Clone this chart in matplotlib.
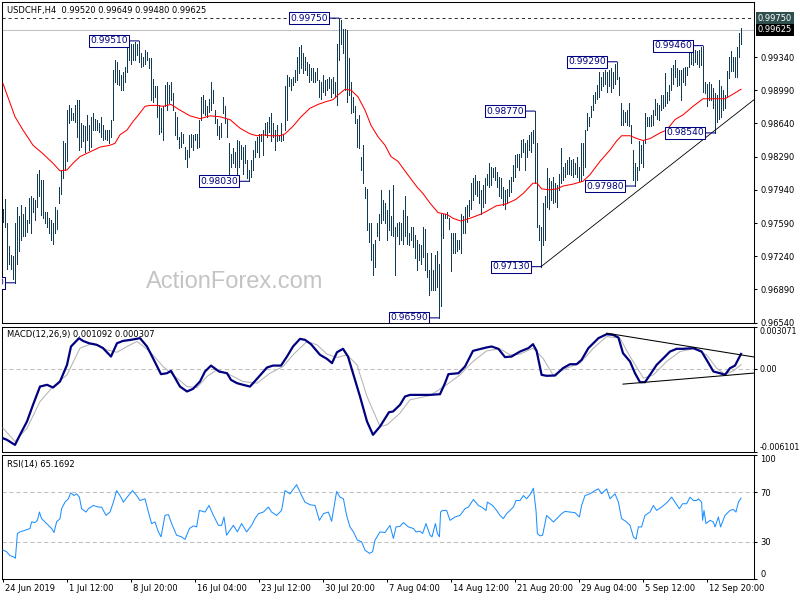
import matplotlib
matplotlib.use("Agg")
import matplotlib.pyplot as plt
import numpy as np

plt.rcParams['font.family'] = ['DejaVu Sans']
plt.rcParams['lines.scale_dashes'] = False
plt.rcParams['axes.unicode_minus'] = False

# H4 bars, prices in 1/10000 (0.9774 -> 9774)
bar_high = [
    9774, 9784, 9759, 9735, 9725, 9724, 9759, 9776, 9766, 9778,
    9769, 9776, 9762, 9785, 9787, 9785, 9783, 9811, 9815, 9804,
    9804, 9771, 9771, 9764, 9762, 9759, 9776, 9773, 9797, 9815,
    9845, 9843, 9878, 9883, 9880, 9875, 9883, 9889, 9889, 9864,
    9862, 9861, 9873, 9862, 9871, 9875, 9869, 9868, 9864, 9871,
    9862, 9857, 9857, 9857, 9868, 9920, 9931, 9929, 9920, 9915,
    9918, 9924, 9948, 9950, 9948, 9948, 9950, 9948, 9951, 9938,
    9934, 9941, 9939, 9933, 9933, 9911, 9903, 9903, 9883, 9880,
    9882, 9904, 9908, 9904, 9908, 9896, 9876, 9871, 9850, 9855,
    9853, 9839, 9836, 9852, 9853, 9852, 9853, 9853, 9868, 9892,
    9894, 9889, 9882, 9890, 9908, 9899, 9878, 9869, 9861, 9864,
    9892, 9882, 9869, 9843, 9832, 9838, 9834, 9846, 9845, 9841,
    9839, 9841, 9825, 9815, 9825, 9836, 9845, 9850, 9853, 9853,
    9857, 9864, 9866, 9871, 9875, 9864, 9857, 9862, 9852, 9864,
    9853, 9903, 9915, 9913, 9911, 9913, 9920, 9934, 9945, 9947,
    9938, 9934, 9929, 9927, 9922, 9922, 9918, 9922, 9910, 9908,
    9915, 9910, 9911, 9913, 9911, 9913, 9908, 9948, 9975, 9973,
    9964, 9964, 9962, 9933, 9908, 9892, 9882, 9869, 9873, 9829,
    9841, 9797, 9795, 9759, 9759, 9737, 9741, 9759, 9769, 9794,
    9783, 9780, 9773, 9794, 9766, 9799, 9755, 9759, 9760, 9759,
    9773, 9788, 9766, 9748, 9755, 9755, 9746, 9741, 9737, 9736,
    9755, 9753, 9727, 9709, 9727, 9709, 9725, 9729, 9716, 9769,
    9769, 9769, 9771, 9764, 9748, 9748, 9748, 9741, 9741, 9769,
    9766, 9776, 9778, 9783, 9801, 9806, 9810, 9803, 9803, 9794,
    9799, 9806, 9811, 9822, 9818, 9817, 9818, 9813, 9808, 9806,
    9797, 9794, 9795, 9804, 9808, 9820, 9831, 9832, 9832, 9846,
    9848, 9843, 9846, 9852, 9855, 9857, 9877, 9843, 9757, 9755,
    9780, 9787, 9817, 9806, 9803, 9808, 9801, 9799, 9811, 9838,
    9818, 9822, 9825, 9829, 9825, 9827, 9822, 9829, 9818, 9843,
    9843, 9857, 9875, 9871, 9882, 9894, 9897, 9904, 9918, 9913,
    9918, 9920, 9918, 9920, 9922, 9918, 9927, 9929, 9913, 9885,
    9878, 9876, 9878, 9885, 9862, 9836, 9822, 9818, 9845, 9841,
    9845, 9875, 9871, 9871, 9873, 9878, 9890, 9885, 9883, 9894,
    9894, 9917, 9897, 9905, 9922, 9926, 9931, 9922, 9920, 9920,
    9922, 9924, 9924, 9941, 9945, 9945, 9941, 9940, 9941, 9945,
    9946, 9908, 9906, 9908, 9906, 9901, 9896, 9894, 9910, 9903,
    9899, 9894, 9919, 9934, 9940, 9934, 9934, 9945, 9959, 9965,
]
bar_low = [
    9760, 9755, 9711, 9716, 9711, 9700, 9696, 9716, 9730, 9741,
    9745, 9745, 9750, 9759, 9748, 9771, 9762, 9776, 9787, 9767,
    9764, 9759, 9755, 9748, 9741, 9737, 9748, 9753, 9780, 9790,
    9806, 9815, 9824, 9864, 9868, 9868, 9866, 9850, 9836, 9839,
    9845, 9834, 9846, 9836, 9839, 9857, 9857, 9857, 9855, 9850,
    9846, 9848, 9846, 9843, 9850, 9868, 9908, 9906, 9904, 9899,
    9899, 9908, 9918, 9931, 9927, 9931, 9931, 9936, 9929, 9924,
    9925, 9927, 9931, 9922, 9889, 9887, 9892, 9871, 9853, 9855,
    9846, 9882, 9878, 9885, 9889, 9878, 9852, 9848, 9838, 9839,
    9843, 9827, 9818, 9829, 9839, 9836, 9846, 9838, 9839, 9868,
    9875, 9873, 9871, 9876, 9878, 9885, 9864, 9852, 9848, 9850,
    9875, 9864, 9850, 9808, 9818, 9822, 9818, 9810, 9818, 9827,
    9811, 9822, 9806, 9803, 9808, 9815, 9829, 9834, 9829, 9845,
    9831, 9852, 9850, 9855, 9845, 9850, 9836, 9845, 9846, 9845,
    9846, 9857, 9868, 9903, 9899, 9904, 9908, 9910, 9917, 9922,
    9917, 9920, 9915, 9908, 9910, 9908, 9908, 9910, 9892, 9890,
    9897, 9894, 9899, 9901, 9892, 9896, 9892, 9883, 9931, 9948,
    9938, 9899, 9887, 9894, 9875, 9876, 9864, 9839, 9838, 9815,
    9801, 9785, 9752, 9739, 9720, 9704, 9713, 9745, 9741, 9759,
    9762, 9759, 9741, 9752, 9746, 9745, 9704, 9745, 9737, 9741,
    9737, 9745, 9737, 9736, 9741, 9734, 9722, 9709, 9720, 9716,
    9723, 9709, 9702, 9683, 9688, 9688, 9688, 9692, 9659, 9671,
    9743, 9764, 9764, 9753, 9708, 9727, 9727, 9730, 9732, 9727,
    9748, 9748, 9760, 9766, 9774, 9783, 9790, 9788, 9780, 9769,
    9776, 9780, 9799, 9797, 9799, 9808, 9804, 9797, 9787, 9785,
    9778, 9774, 9780, 9787, 9792, 9803, 9808, 9818, 9815, 9829,
    9834, 9815, 9829, 9836, 9834, 9843, 9801, 9755, 9741, 9713,
    9736, 9741, 9776, 9774, 9783, 9780, 9781, 9776, 9794, 9801,
    9804, 9808, 9811, 9811, 9810, 9808, 9811, 9808, 9803, 9803,
    9810, 9818, 9857, 9861, 9871, 9878, 9885, 9890, 9892, 9899,
    9903, 9906, 9897, 9903, 9897, 9901, 9906, 9911, 9894, 9862,
    9862, 9866, 9862, 9861, 9843, 9804, 9798, 9804, 9815, 9822,
    9818, 9843, 9861, 9861, 9861, 9862, 9873, 9869, 9868, 9878,
    9880, 9882, 9885, 9889, 9899, 9906, 9913, 9903, 9905, 9889,
    9908, 9905, 9915, 9924, 9927, 9926, 9929, 9927, 9924, 9926,
    9897, 9896, 9882, 9889, 9889, 9880, 9854, 9866, 9869, 9871,
    9878, 9880, 9892, 9912, 9919, 9919, 9913, 9913, 9934, 9948,
]

# red moving average, read at bar positions
ma_x = [0, 6, 10, 15, 20, 25, 28.5, 32, 35, 38.5,
        43.5, 48.5, 53.5, 56, 58.5, 62, 65, 67, 71, 73.5,
        77, 80, 84, 88.5, 93.5, 98.5, 103.5, 108.5, 113.5, 118.5,
        123.5, 127, 130, 133.5, 138.5, 141, 145, 149, 153.5, 157.5,
        161.5, 165, 167.5, 171, 174, 177.5, 181, 184, 187.5, 191,
        194, 197.5, 202, 207, 210, 213.5, 217.5, 222, 225, 229,
        233.5, 238.5, 241.5, 246.5, 251.5, 256.5, 260, 265, 267, 269.3,
        273.5, 277, 280, 285, 290, 293.5, 298.5, 303.5, 307, 309.3,
        313.5, 317, 320, 323.5, 328.5, 331.8, 336, 340, 345, 350,
        355, 361, 364.3, 369]
ma_v = [9906, 9871, 9857, 9841, 9832, 9822, 9814, 9815, 9822, 9829,
        9834, 9839, 9841, 9843, 9852, 9857, 9866, 9871, 9882, 9883,
        9883, 9882, 9884, 9878, 9872, 9869, 9872, 9871, 9868, 9859,
        9853, 9851, 9852, 9851, 9851, 9853, 9861, 9871, 9880, 9884,
        9887, 9889, 9894, 9900, 9899, 9892, 9878, 9862, 9850, 9841,
        9829, 9824, 9811, 9797, 9790, 9780, 9770, 9768, 9764, 9761,
        9764, 9768, 9771, 9777, 9779, 9784, 9790, 9801, 9801, 9795,
        9794, 9795, 9798, 9800, 9803, 9810, 9824, 9836, 9846, 9851,
        9851, 9848, 9846, 9848, 9854, 9857, 9868, 9873, 9882, 9890,
        9890, 9890, 9894, 9900]

# MACD(12,26,9) main and signal, values in 1e-4
macd_x = [0, 2, 6, 8.5, 12, 15, 18.5, 22, 25, 28.5,
          32, 34, 38, 40, 43, 47, 50, 54, 57, 60,
          64, 68.5, 72, 75, 79, 82, 84, 88.5, 92, 95,
          98.5, 101, 104, 108, 112, 114, 117, 120, 123.5, 127,
          132, 135, 139, 142, 145, 148.5, 151, 154, 158.5, 162,
          164.5, 167, 170, 172.5, 175, 178.5, 182, 185, 188.5, 193,
          195, 198.5, 201, 203.5, 208.5, 213.5, 218.5, 221, 222.7, 227.7,
          231, 235, 239, 241.8, 244.3, 247.7, 251, 254.3, 258.5, 262.7,
          265, 266.8, 269.3, 271.8, 276, 280, 283.5, 286.8, 289.3, 292.7,
          297.7, 301.8, 305, 307.7, 310, 313.5, 316, 318.5, 321, 323.5,
          326.8, 330.2, 333.5, 336.8, 340.2, 345.2, 349.3, 351.8, 355.2, 358.5,
          361, 363.5, 366, 369]
macd_v = [-50.9, -52.1, -55.8, -48.4, -38.6, -26.4, -13.0, -11.7, -13.7, -9.3,
          2.9, 16.4, 22.5, 20.5, 18.8, 17.6, 15.2, 9.05, 18.8, 20.5,
          21.3, 22.5, 16.4, 7.8, -3.9, -3.2, -1.5, -13.0, -16.6, -14.7,
          -9.3, -1.95, 2.4, -1.95, -3.2, -8.1, -10.5, -11.7, -13.0, -7.3,
          1.0, 2.4, 2.4, 9.05, 16.4, 22.0, 21.3, 18.1, 10.3, 7.3,
          4.2, 12.2, 14.7, 9.05, -3.2, -20.3, -38.6, -48.4, -42.3, -31.8,
          -31.3, -26.4, -20.3, -19.1, -19.1, -19.1, -18.6, -10.5, -3.9, -3.2,
          1.7, 13.2, 14.7, 15.7, 16.4, 14.7, 8.6, 9.05, 12.7, 15.2,
          18.1, 13.2, -4.4, -5.1, -4.9, 0.5, 3.4, 3.4, 6.6, 15.2,
          22.5, 25.4, 24.95, 23.0, 11.5, 5.4, -3.2, -9.8, -9.8, -4.4,
          2.9, 7.8, 12.7, 14.7, 14.7, 15.2, 12.7, 6.6, -1.95, -3.2,
          -4.4, 0.5, 2.4, 10.92]
sig_x = [0, 6, 12, 18.5, 25, 32, 38.5, 45, 52, 57,
         62, 67, 73.5, 80, 87, 92, 97, 102, 107, 113.5,
         120, 127, 133.5, 140, 145, 152, 157, 162, 167, 172,
         177, 182, 188.5, 192, 198.5, 203.5, 213.5, 221.8, 228.5, 235,
         241.8, 248.5, 253.5, 258.5, 265, 270, 275, 281.8, 288.5, 295.2,
         301.8, 308.5, 313.5, 320.2, 325.2, 331.8, 338.5, 345.2, 351.8, 356.8,
         361, 365.2, 369]
sig_v = [-43.5, -53.3, -43.5, -24.0, -13.0, -4.4, 15.2, 18.8, 13.9, 12.2,
         16.4, 20.1, 12.7, 1.7, -6.8, -13.0, -13.7, -5.6, -0.7, -4.4,
         -9.3, -10.5, -3.2, 1.7, 10.3, 20.1, 17.6, 10.8, 8.3, 10.3,
         2.9, -20.3, -42.3, -41.1, -32.5, -22.7, -19.6, -11.7, -4.4, 5.4,
         13.2, 14.7, 10.3, 10.8, 15.2, 7.8, -4.4, 0.5, 4.2, 15.2,
         23.7, 22.5, 9.05, -6.8, -4.4, 5.4, 12.7, 14.7, 10.3, 0.5,
         -3.9, -1.5, 3.07]

# RSI(14)
rsi_x = [0, 1.8, 3.5, 5.2, 6.2, 7.2, 8.5, 11, 13.5, 14.3,
         16, 17.2, 18.2, 19.3, 21.8, 24.3, 25.5, 26.8, 28.5, 29.3,
         31, 32.7, 33.8, 35.5, 36.8, 38.2, 39.3, 41.5, 42.7, 45.2,
         47.7, 49.3, 51.5, 53.5, 55.2, 56.8, 58.5, 60.2, 62.7, 64.8,
         66.8, 68.5, 71, 72.7, 74.3, 76, 77.7, 79, 81, 82.7,
         84.3, 86.8, 89.3, 91, 93.2, 95.2, 96.8, 98.2, 101, 103,
         105.2, 107.7, 109.3, 110.5, 111.8, 113.5, 115.2, 117.2, 119.3, 121.8,
         124.3, 126, 127.7, 130.2, 132.7, 134.3, 136.8, 139.3, 141, 143.5,
         146.8, 149.3, 151, 153.5, 156, 158.2, 160.2, 162.7, 164.3, 166.8,
         168.5, 170.2, 171.8, 173.5, 175.2, 177.2, 179.3, 181, 183.2, 184.8,
         186, 188.5, 191, 193.5, 195.2, 196.5, 198.5, 200.2, 202.7, 205.2,
         206.5, 208.5, 209.8, 211.5, 213.5, 214.5, 216.2, 217.2, 218.2, 218.8,
         219.8, 221.8, 223.5, 226, 228.5, 231, 232.7, 235.2, 237.7, 239.3,
         241.5, 242.2, 244.8, 246.8, 248.5, 250.2, 251.8, 255.2, 256.5, 258.5,
         260.2, 261.8, 263.8, 265.2, 266.5, 267.2, 268.5, 269.8, 271.8, 273.5,
         275.2, 277.7, 279.3, 281, 283.5, 286, 288.2, 289.3, 291, 293.5,
         296, 297.7, 299.3, 301.8, 303.5, 306, 307.7, 309.3, 311.8, 313.5,
         315.2, 316.5, 317.7, 319.3, 321, 323.5, 325.2, 326.8, 329.3, 332.2,
         334.3, 336, 338.2, 339.8, 341.8, 343.5, 345.2, 346.8, 347.7, 349.3,
         349.8, 350.5, 351.5, 353.5, 355.2, 356, 357.7, 358.8, 361, 363.5,
         365.2, 366.5, 367.7, 369]
rsi_v = [23.3, 22, 18.8, 18, 16.7, 36.7, 38, 39.3, 40.7, 46,
         45.5, 47.3, 54, 48.7, 44.7, 40.7, 37.5, 46, 48.7, 56.7,
         62, 64.7, 69.5, 67.3, 68.7, 66, 56.7, 54, 56.7, 59.3,
         58, 58, 51.3, 54, 62, 71.3, 67.3, 62, 67.3, 71.3,
         67.3, 63.3, 64.7, 54, 44.7, 46, 38, 34, 51.3, 51.9,
         44.7, 35.3, 34, 31.9, 40.7, 42.8, 42, 55.3, 54, 59.3,
         51.3, 43.3, 43.3, 50, 35.3, 39.3, 43.3, 38, 44.7, 38,
         43.3, 48.7, 52.7, 54, 58, 54, 51.3, 55.3, 71.3, 68.7,
         76.1, 67.3, 62, 59.9, 59.3, 47.3, 52.7, 54, 46.5, 70.5,
         66, 64.7, 51.3, 42, 38, 31.3, 30, 23.3, 20.7, 22,
         31.3, 38, 37.5, 43.3, 32.7, 42, 42.5, 45.5, 42, 40.7,
         38, 38.5, 36.7, 44.7, 35.3, 34, 44.7, 36.7, 34, 54,
         55.3, 55.3, 47.3, 50, 51.3, 56.7, 58, 64.1, 59.3, 58,
         55.3, 62, 59.3, 55.3, 51.3, 48.7, 52.7, 58, 63.3, 63.3,
         67.3, 64.7, 68.7, 73.2, 55.3, 36.7, 34.8, 35.3, 51.3, 48.7,
         46, 50, 52.7, 54.5, 54, 53.5, 50, 59.3, 67.3, 68.7,
         71.3, 72.7, 68.7, 72.7, 64.7, 68.7, 62, 48.7, 46, 43.3,
         34, 32.1, 42, 42, 51.3, 54, 59.3, 55.3, 58, 62,
         66, 62, 56.7, 60.7, 60.7, 66, 63.3, 63.3, 64.7, 62,
         47.3, 55.3, 44.7, 47.3, 46, 42, 50, 42, 51.3, 55.3,
         56.1, 54, 62, 65.17]

# swing labels: bar index, price, text
swing_idx = [6, 68, 123, 168, 218, 266, 269, 307, 316, 350, 356]
swing_price = [0.9696, 0.9951, 0.9803, 0.9975, 0.9659, 0.9877, 0.9713, 0.9929, 0.9798, 0.9946, 0.9854]
swing_text = ['0.96960', '0.99510', '0.98030', '0.99750', '0.96590', '0.98770',
              '0.97130', '0.99290', '0.97980', '0.99460', '0.98540']

# trend lines (bar index, value)
trend_price = [(269, 0.9713), (375.5, 0.9889)]
trend_macd_top = [(301.8, 0.00262), (375.5, 0.00087)]
trend_macd_low = [(310, -0.00112), (375.5, -0.00031)]

price_ticks = [0.9654, 0.9689, 0.9724, 0.9759, 0.9794, 0.9829, 0.9864, 0.9899, 0.9934]
date_pos = [0, 32, 64, 96, 128, 160, 192, 224, 256, 288, 320, 352]
date_labels = ['24 Jun 2019', '1 Jul 12:00', '8 Jul 20:00', '16 Jul 04:00', '23 Jul 12:00',
               '30 Jul 20:00', '7 Aug 04:00', '14 Aug 12:00', '21 Aug 20:00', '29 Aug 04:00',
               '5 Sep 12:00', '12 Sep 20:00']

BAR = '#123c56'
NAVY = '#000080'
W, H = 800, 600

fig = plt.figure(figsize=(8, 6), dpi=100)
fig.patch.set_facecolor('white')


def panel(top, bottom):
    ax = fig.add_axes([2 / W, 1 - bottom / H, 752 / W, (bottom - top) / H])
    for s in ax.spines.values():
        s.set_linewidth(0.75)
        s.set_color('black')
    ax.set_xlim(-0.5, 375.5)
    ax.yaxis.tick_right()
    ax.tick_params(axis='y', direction='out', length=2.2, width=0.75,
                   labelsize=6, pad=2.5, colors='black')
    ax.tick_params(axis='x', bottom=False, labelbottom=False)
    return ax


ax1 = panel(2, 323)
ax2 = panel(327, 452)
ax3 = panel(455, 579)

# ---- price panel
hi = np.array(bar_high) / 10000
lo = np.array(bar_low) / 10000
ax1.vlines(np.arange(len(hi)), lo, hi, colors=BAR, lw=0.72, antialiased=False, zorder=3)
ax1.plot(ma_x, np.array(ma_v) / 10000, color='red', lw=0.75, zorder=4)
ax1.set_ylim(0.96536, 0.99920)
ax1.set_yticks(price_ticks)
ax1.set_yticklabels(['%.5f' % t for t in price_ticks])
ax1.axhline(0.9975, color='#333333', lw=0.75, ls=(0, (2.2, 2.2)), zorder=2)
ax1.axhline(0.99625, color='#c0c0c0', lw=0.75, zorder=2)
ax1.plot([p[0] for p in trend_price], [p[1] for p in trend_price], color='black', lw=0.6, zorder=4)

for i, p, t in zip(swing_idx, swing_price, swing_text):
    ax1.annotate(t, xy=(i, p), xytext=(-11, 0), textcoords='offset pixels',
                 ha='right', va='center', fontsize=6.6, color=NAVY,
                 bbox=dict(boxstyle='square,pad=0.15', fc='white', ec=NAVY, lw=0.75),
                 arrowprops=dict(arrowstyle='-', color=NAVY, lw=0.75, shrinkA=0, shrinkB=0),
                 annotation_clip=False, clip_on=True, zorder=5)

for p, t, bg in [(0.9975, '0.99750', '#2f4f4f'), (0.99625, '0.99625', 'black')]:
    ax1.annotate(t, xy=(1, p), xycoords=('axes fraction', 'data'), xytext=(4, 0),
                 textcoords='offset pixels', ha='left', va='center', fontsize=6,
                 color='white', bbox=dict(boxstyle='square,pad=0.22', fc=bg, ec='none'),
                 annotation_clip=False)

ax1.text(146 / W, 1 - 282 / H, 'ActionForex.com', transform=fig.transFigure,
         fontsize=17, family='Liberation Sans', color='#c4c4c4', va='center', zorder=1)
ax1.text(7 / W, 1 - 10 / H, 'USDCHF,H4  0.99520 0.99649 0.99480 0.99625',
         transform=fig.transFigure, fontsize=6, va='center', zorder=6)

# ---- MACD panel
ax2.axhline(0, color='#c0c0c0', lw=0.75, ls=(0, (3, 2)), zorder=1)
ax2.plot(sig_x, np.array(sig_v) * 1e-4, color='#b4b4b4', lw=0.75, zorder=3)
ax2.plot(macd_x, np.array(macd_v) * 1e-4, color=NAVY, lw=1.6, zorder=4)
for tl in (trend_macd_top, trend_macd_low):
    ax2.plot([p[0] for p in tl], [p[1] for p in tl], color='black', lw=0.75, zorder=5)
ax2.set_ylim(-0.006101, 0.003071)
ax2.set_yticks([-0.006101, 0.0, 0.003071])
ax2.set_yticklabels(['-0.006101', '0.00', '0.003071'])
ax2.tick_params(axis='y', labelsize=5.7, pad=1.5)
lbls = ax2.get_yticklabels()
lbls[0].set_va('bottom')
lbls[-1].set_va('top')
ax2.text(7 / W, 1 - 335 / H, 'MACD(12,26,9) 0.001092 0.000307', transform=fig.transFigure,
         fontsize=6, va='center', zorder=2)

# ---- RSI panel
for lv in (70, 30):
    ax3.axhline(lv, color='#c0c0c0', lw=0.75, ls=(0, (3, 2)), zorder=1)
ax3.plot(rsi_x, rsi_v, color='#1e90ff', lw=0.75, zorder=3)
ax3.set_ylim(0, 100)
ax3.set_yticks([0, 30, 70, 100])
ax3.set_yticklabels(['0', '30', '70', '100'])
lbls = ax3.get_yticklabels()
lbls[0].set_va('bottom')
lbls[-1].set_va('top')
ax3.text(7 / W, 1 - 464 / H, 'RSI(14) 65.1692', transform=fig.transFigure,
         fontsize=6, va='center', zorder=2)

ax3.set_xticks(date_pos)
ax3.tick_params(axis='x', bottom=True, labelbottom=False, direction='out',
                length=2.5, width=0.75)
for pos, lab in zip(date_pos, date_labels):
    ax3.annotate(lab, xy=(pos, 0), xycoords=('data', 'axes fraction'), xytext=(2, -5),
                 textcoords='offset pixels', ha='left', va='top', fontsize=6,
                 annotation_clip=False)

fig.savefig('out.png', dpi=100, facecolor='white')
